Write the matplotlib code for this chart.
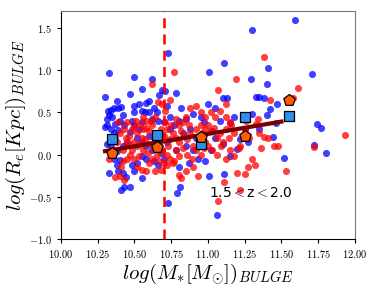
import matplotlib
matplotlib.use("Agg")
import matplotlib.pyplot as plt
from matplotlib.ticker import FuncFormatter

plt.rcParams['mathtext.fontset'] = 'cm'

# bulge mass / size, two samples
blue_x = [10.30, 10.33, 10.32, 10.34, 10.36, 10.38, 10.33, 10.31, 10.35, 10.31, 10.30, 10.34, 10.37, 10.39,
          10.41, 10.36, 10.39, 10.31, 10.34, 10.37, 10.40, 10.42, 10.43, 10.33, 10.36, 10.38, 10.40, 10.39,
          10.42, 10.41, 10.43, 10.47, 10.44, 10.38, 10.42, 10.45, 10.47,
          10.47, 10.50, 10.55, 10.62, 10.50, 10.53, 10.55, 10.58, 10.60, 10.57, 10.50, 10.60, 10.63, 10.65,
          10.67, 10.69, 10.71, 10.73, 10.78, 10.72, 10.74, 10.70, 10.66, 10.62, 10.55, 10.53, 10.50, 10.48,
          10.52, 10.55, 10.58, 10.60, 10.62, 10.65, 10.68, 10.70, 10.55, 10.52, 10.58, 10.63, 10.66, 10.55,
          10.50, 10.48, 10.73, 10.72, 10.74,
          10.79, 10.81, 10.80, 10.85, 10.90, 10.82, 10.77, 10.83, 10.88, 10.92, 10.95, 10.97, 10.85, 10.90,
          10.93, 10.98, 10.87, 10.80, 10.78, 10.96,
          11.01, 11.11, 11.00, 11.05, 11.10, 11.13, 11.08, 11.15, 11.18, 11.03, 11.10, 11.20, 11.22, 11.01,
          11.11, 11.06, 11.02, 11.15, 11.25, 11.29, 11.30, 11.30, 11.27, 11.05,
          11.33, 11.35, 11.38, 11.40, 11.41, 11.42, 11.40, 11.46, 11.44, 11.47, 11.52, 11.59, 11.71, 11.74,
          11.77, 11.72, 11.80, 11.35]
blue_y = [0.68, 0.97, 0.52, 0.53, 0.55, 0.64, 0.47, 0.42, 0.44, 0.35, 0.33, 0.30, 0.36, 0.55,
          0.56, 0.26, 0.29, 0.13, 0.10, 0.20, 0.40, 0.47, 0.35, -0.22, -0.05, -0.12, -0.06, -0.20,
          -0.22, -0.42, -0.38, -0.39, -0.27, 0.04, 0.10, 0.15, 0.27,
          0.72, 0.92, 0.78, 0.89, 0.57, 0.60, 0.52, 0.61, 0.63, 0.50, 0.50, 0.50, 0.55, 0.50,
          0.70, 0.77, 0.75, 1.20, 0.73, 0.57, 0.45, 0.38, 0.40, 0.42, 0.38, 0.30, 0.35, 0.40,
          0.20, 0.15, 0.10, 0.22, 0.05, 0.14, 0.02, -0.05, -0.02, -0.10, -0.05, -0.08, -0.12, -0.28,
          -0.20, -0.12, -0.57, 0.15, 0.30,
          -0.45, -0.38, 0.40, 0.42, 0.48, 0.55, 0.35, 0.25, 0.30, 0.20, 0.45, 0.38, 0.10, 0.05,
          -0.05, -0.08, -0.10, -0.15, 0.05, 0.15,
          0.98, 1.08, 0.60, 0.55, 0.67, 0.67, 0.40, 0.37, 0.45, 0.28, 0.12, 0.06, 0.18, -0.25,
          -0.23, -0.71, 0.05, -0.02, 0.30, 0.89, 1.47, 0.48, 0.15, 0.20,
          0.68, 0.68, 0.67, 0.84, 1.03, 0.54, 0.47, 0.37, 0.21, 0.60, -0.04, 1.59, 0.95, 0.36,
          0.31, 0.11, 0.02, 0.30]

red_x = [10.33, 10.35, 10.37, 10.40, 10.41, 10.42, 10.38, 10.40, 10.43, 10.45, 10.42, 10.44, 10.46, 10.45,
         10.47, 10.48, 10.43, 10.36, 10.39, 10.44,
         10.50, 10.52, 10.54, 10.56, 10.58, 10.60, 10.62, 10.64, 10.62, 10.50, 10.52, 10.55, 10.57, 10.60,
         10.63, 10.65, 10.67, 10.70, 10.72, 10.74, 10.68, 10.50, 10.53, 10.56, 10.59, 10.62, 10.65, 10.67,
         10.70, 10.72, 10.74, 10.52, 10.55, 10.58, 10.64, 10.68, 10.72, 10.51, 10.56, 10.61, 10.66, 10.69,
         10.71, 10.74, 10.77, 10.48, 10.46, 10.60, 10.66, 10.69, 10.73, 10.54, 10.58, 10.63, 10.71, 10.75,
         10.76, 10.78, 10.80, 10.82, 10.84, 10.86, 10.88, 10.90, 10.92, 10.94, 10.96, 10.98, 10.78, 10.80,
         10.83, 10.86, 10.89, 10.92, 10.95, 10.97, 10.76, 10.80, 10.85, 10.90, 10.93, 10.77, 10.85, 10.88,
         10.92, 10.95, 10.98, 10.80, 10.83, 10.87, 10.95, 10.78, 10.82, 10.98,
         11.00, 11.02, 11.04, 11.06, 11.08, 11.10, 11.12, 11.14, 11.16, 11.18, 11.00, 11.03, 11.06, 11.09,
         11.12, 11.15, 11.18, 11.02, 11.05, 11.08, 11.12, 11.15, 11.07, 11.19, 11.11, 11.07, 11.22, 11.20,
         11.25, 11.22, 11.25, 11.28, 11.27, 11.30, 11.26, 11.12, 11.21,
         11.32, 11.34, 11.35, 11.38, 11.38, 11.41, 11.42, 11.45, 11.48, 11.53, 11.58, 11.61, 11.72, 11.93,
         11.33, 11.36]
red_y = [-0.05, 0.05, -0.27, -0.25, -0.15, -0.08, 0.15, 0.25, 0.30, 0.38, 0.05, 0.12, 0.22, -0.05,
         0.00, 0.30, -0.30, 0.20, 0.38, 0.20,
         0.33, 0.25, 0.35, 0.30, 0.32, 0.28, 0.35, 0.45, 0.83, 0.15, 0.10, 0.20, 0.18, 0.12,
         0.20, 0.25, 0.15, 0.22, 0.30, 0.18, 0.30, -0.05, -0.02, 0.05, 0.02, -0.05, 0.00, -0.08,
         -0.10, 0.00, -0.05, -0.15, -0.18, -0.20, -0.20, -0.18, -0.12, 0.40, 0.45, 0.40, 0.62, 0.60,
         0.52, 0.65, 0.98, 0.05, 0.12, -0.10, 0.10, 0.05, 0.10, 0.12, 0.40, 0.08, 0.38, 0.35,
         0.25, 0.20, 0.15, 0.28, 0.22, 0.18, 0.25, 0.10, 0.30, 0.20, 0.25, 0.15, 0.05, -0.02,
         0.08, 0.00, -0.05, 0.05, 0.00, 0.08, -0.10, -0.24, -0.20, -0.15, -0.25, -0.08, 0.45, 0.55,
         0.58, 0.50, 0.45, 0.35, 0.38, 0.35, 0.35, 0.42, -0.28, 0.30,
         0.35, 0.28, 0.32, 0.20, 0.25, 0.15, 0.30, 0.20, 0.35, 0.25, 0.10, 0.05, 0.00, 0.10,
         -0.05, 0.05, -0.02, 0.50, 0.45, 0.52, 0.45, 0.38, 0.77, 0.89, -0.33, -0.55, -0.42, -0.22,
         -0.23, 0.10, 0.30, 0.20, -0.15, -0.05, 0.40, 0.60, 0.08,
         -0.12, 0.42, 0.25, 1.15, 0.21, 0.20, 0.65, 0.10, 0.10, -0.20, 0.67, 0.79, 0.09, 0.23,
         0.36, 0.08]

# binned medians
bin_x = [10.35, 10.65, 10.95, 11.25, 11.55]
blue_med = [0.18, 0.23, 0.13, 0.45, 0.46]
red_med = [0.02, 0.09, 0.21, 0.22, 0.65]

# fitted relation
fit_x = [10.30, 11.50]
fit_y = [0.04, 0.39]

mass_cut = 10.7

fig = plt.figure(figsize=(3.74, 2.89), dpi=100)
ax = fig.add_axes([0.163, 0.173, 0.786, 0.789])

ax.scatter(blue_x, blue_y, s=26, color='blue', alpha=0.75, linewidths=0, zorder=2)
ax.scatter(red_x, red_y, s=26, color='red', alpha=0.75, linewidths=0, zorder=2)
ax.plot(fit_x, fit_y, color='#7a0000', lw=3, zorder=3)
ax.scatter(bin_x, blue_med, marker='s', s=55, color='#2f8ff0', edgecolors='black', linewidths=0.9, zorder=4)
ax.scatter(bin_x, red_med, marker='p', s=75, color='#ff5a00', edgecolors='black', linewidths=0.9, zorder=4)
ax.axvline(mass_cut, color='red', ls='--', lw=1.8, dashes=(4, 2.5), zorder=3)

ax.text(11.01, -0.45, '1.5$<$z$<$2.0', fontsize=10, va='center')

ax.set_xlim(10.0, 12.0)
ax.set_ylim(-1.0, 1.7)
ax.set_xticks([10.0, 10.25, 10.5, 10.75, 11.0, 11.25, 11.5, 11.75, 12.0])
ax.set_yticks([-1.0, -0.5, 0.0, 0.5, 1.0, 1.5])
ax.xaxis.set_major_formatter(FuncFormatter(lambda v, p: f'${v:.2f}$'))
ax.yaxis.set_major_formatter(FuncFormatter(lambda v, p: f'${v:.1f}$'))
ax.tick_params(labelsize=7.5, length=3, width=0.8)

for side in ['top', 'right']:
    ax.spines[side].set_color('#777777')

ax.set_xlabel(r'$log(M_{*}[M_{\odot}])_{BULGE}$', fontsize=15, labelpad=1)
ax.set_ylabel(r'$log(R_e[Kpc])_{BULGE}$', fontsize=15, labelpad=1)

fig.savefig('out.png', dpi=100)
